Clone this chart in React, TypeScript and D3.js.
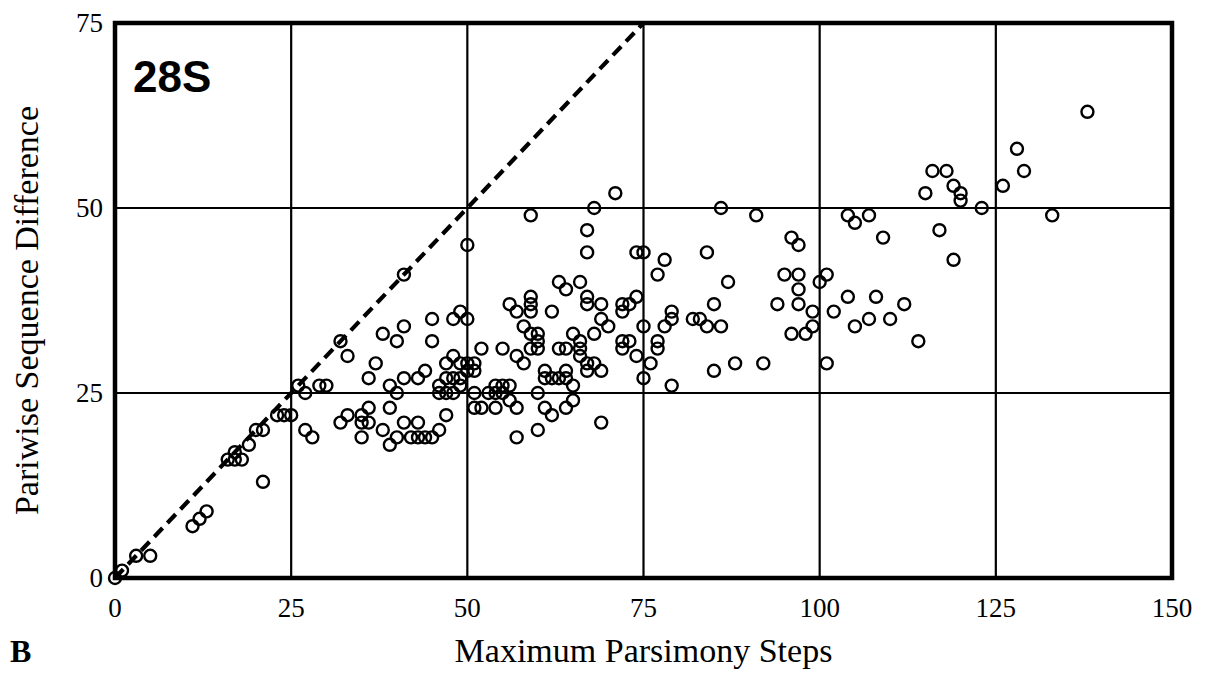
import React from "react";
import * as d3 from "d3";

const maxParsimonySteps: number[] = [
  0, 1, 3, 5, 11, 12, 13, 16, 17, 17, 18, 19, 20, 21, 21, 23, 24, 25, 26, 27, 27, 28, 29, 30,
  32, 33, 32, 33, 35, 35, 36, 36, 35, 36, 37, 38, 38, 39, 39, 39, 40, 40, 40, 41, 41, 41, 41,
  42, 43, 43, 43, 44, 44, 45, 45, 45, 46, 46, 46, 47, 47, 47, 47, 48, 48, 48, 48, 49, 49, 49,
  49, 50, 50, 50, 50, 51, 51, 51, 51, 52, 52, 53, 54, 54, 54, 55, 55, 55, 56, 56, 56, 57, 57,
  57, 57, 58, 58, 59, 59, 59, 59, 59, 59, 60, 60, 60, 60, 60, 61, 61, 61, 62, 62, 62, 63, 63,
  63, 64, 64, 64, 64, 64, 65, 65, 65, 66, 66, 66, 66, 67, 67, 67, 67, 67, 67, 68, 68, 68, 69,
  69, 69, 69, 70, 71, 72, 73, 72, 72, 73, 72, 74, 74, 74, 75, 75, 75, 76, 77, 77, 77, 78, 78,
  79, 79, 79, 82, 83, 84, 84, 85, 85, 86, 86, 87, 88, 91, 92, 94, 95, 96, 96, 97, 97, 97, 97,
  98, 99, 99, 100, 101, 101, 102, 104, 104, 105, 105, 107, 107, 108, 109, 110, 112, 114, 115,
  116, 117, 118, 119, 119, 120, 120, 123, 126, 128, 129, 133, 138,
];

const pairwiseDifference: number[] = [
  0, 1, 3, 3, 7, 8, 9, 16, 17, 16, 16, 18, 20, 20, 13, 22, 22, 22, 26, 25, 20, 19, 26, 26,
  32, 30, 21, 22, 22, 21, 21, 23, 19, 27, 29, 33, 20, 26, 23, 18, 25, 32, 19, 34, 41, 27, 21,
  19, 27, 21, 19, 28, 19, 35, 32, 19, 26, 25, 20, 25, 22, 27, 29, 35, 30, 25, 27, 36, 29, 27,
  26, 35, 45, 29, 28, 29, 28, 25, 23, 23, 31, 25, 26, 25, 23, 26, 31, 25, 26, 24, 37, 36, 23,
  19, 30, 29, 34, 33, 31, 37, 36, 38, 49, 33, 32, 31, 25, 20, 28, 27, 23, 22, 27, 36, 27, 31,
  40, 27, 28, 23, 31, 39, 24, 26, 33, 32, 31, 30, 40, 28, 29, 37, 38, 44, 47, 33, 29, 50, 35,
  21, 28, 37, 34, 52, 37, 37, 36, 32, 32, 31, 38, 30, 44, 44, 34, 27, 29, 41, 32, 31, 43, 34,
  36, 35, 26, 35, 35, 34, 44, 37, 28, 34, 50, 40, 29, 49, 29, 37, 41, 46, 33, 45, 41, 39, 37,
  33, 36, 34, 40, 41, 29, 36, 49, 38, 48, 34, 49, 35, 38, 46, 35, 37, 32, 52,
  55, 47, 55, 53, 43, 52, 51, 50, 53, 58, 55, 49, 63,
];

const identityLine: [number, number][] = [
  [0, 0],
  [75, 75],
];

const xTicks: number[] = [0, 25, 50, 75, 100, 125, 150];
const yTicks: number[] = [0, 25, 50, 75];

const xTitle = "Maximum Parsimony Steps";
const yTitle = "Pariwise Sequence Difference";
const panelLabel = "B";
const geneLabel = "28S";

export default function App() {
  const W = 1210;
  const H = 678;
  const left = 115;
  const right = 1172;
  const top = 23;
  const bottom = 578;

  const x = d3.scaleLinear().domain([0, 150]).range([left, right]);
  const y = d3.scaleLinear().domain([0, 75]).range([bottom, top]);

  const line = d3
    .line<[number, number]>()
    .x((d) => x(d[0]))
    .y((d) => y(d[1]));

  const points = maxParsimonySteps.map((v, i) => [v, pairwiseDifference[i]] as [number, number]);
  const serif = "'Liberation Serif', 'Times New Roman', serif";

  return (
    <svg
      width={W}
      height={H}
      viewBox={`0 0 ${W} ${H}`}
      style={{ position: "absolute", left: 0, top: 0, display: "block", background: "#fff" }}
    >
      <rect x={0} y={0} width={W} height={H} fill="#fff" />
      {/* grid */}
      {xTicks
        .filter((t) => t > 0 && t < 150)
        .map((t) => (
          <line key={"gx" + t} x1={x(t)} x2={x(t)} y1={y(0)} y2={y(75)} stroke="#000" strokeWidth={2.2} />
        ))}
      {yTicks
        .filter((t) => t > 0 && t < 75)
        .map((t) => (
          <line key={"gy" + t} x1={x(0)} x2={x(150)} y1={y(t)} y2={y(t)} stroke="#000" strokeWidth={2.2} />
        ))}
      {/* dashed identity line */}
      <path
        d={line(identityLine) || ""}
        fill="none"
        stroke="#000"
        strokeWidth={4.2}
        strokeDasharray="12 7"
      />
      {/* points */}
      {points.map((p, i) => (
        <circle key={i} cx={x(p[0])} cy={y(p[1])} r={6} fill="none" stroke="#000" strokeWidth={2.4} />
      ))}
      {/* frame */}
      <rect
        x={x(0)}
        y={y(75)}
        width={x(150) - x(0)}
        height={y(0) - y(75)}
        fill="none"
        stroke="#000"
        strokeWidth={4.5}
      />
      {/* tick labels */}
      {xTicks.map((t) => (
        <text key={"tx" + t} x={x(t)} y={bottom + 39} textAnchor="middle" fontFamily={serif} fontSize={27}>
          {t}
        </text>
      ))}
      {yTicks.map((t) => (
        <text
          key={"ty" + t}
          x={left - 12}
          y={y(t)}
          dy="0.35em"
          textAnchor="end"
          fontFamily={serif}
          fontSize={27}
        >
          {t}
        </text>
      ))}
      {/* titles */}
      <text x={(left + right) / 2} y={662} textAnchor="middle" fontFamily={serif} fontSize={34}>
        {xTitle}
      </text>
      <text
        transform={`translate(38, ${(top + bottom) / 2 + 10}) rotate(-90)`}
        textAnchor="middle"
        fontFamily={serif}
        fontSize={34}
      >
        {yTitle}
      </text>
      <text x={10} y={662} fontFamily={serif} fontWeight="bold" fontSize={32}>
        {panelLabel}
      </text>
      <text
        x={133}
        y={92}
        fontFamily="'Liberation Sans', Arial, sans-serif"
        fontWeight="bold"
        fontSize={44}
      >
        {geneLabel}
      </text>
    </svg>
  );
}
